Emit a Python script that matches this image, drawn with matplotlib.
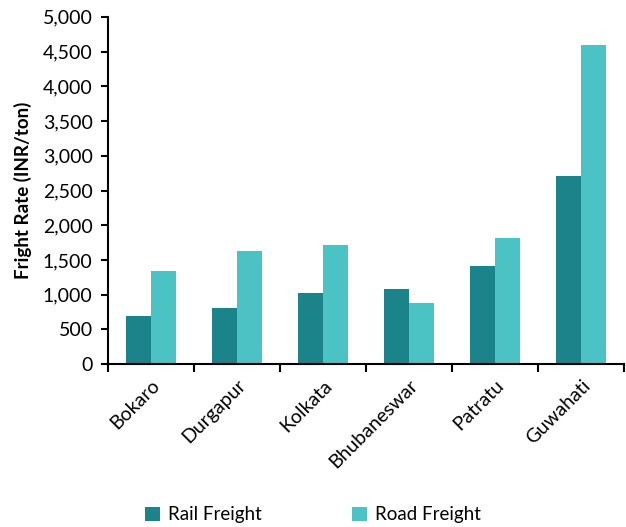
import numpy as np
import matplotlib.pyplot as plt
from matplotlib.ticker import FuncFormatter, FixedLocator

plt.rcParams['font.family'] = ['Lato', 'DejaVu Sans']

cities = ["Bokaro", "Durgapur", "Kolkata", "Bhubaneswar", "Patratu", "Guwahati"]
rail = [690, 805, 1020, 1075, 1410, 2705]
road = [1340, 1625, 1710, 880, 1815, 4590]

rail_col = "#1b848b"
road_col = "#4bc2c3"

fig = plt.figure(figsize=(6.26, 5.27), dpi=100)
ax = fig.add_axes([0.1725, 0.309, 0.825, 0.659])

x = np.arange(len(cities))
w = 0.29
ax.bar(x - w/2, rail, w, color=rail_col, label="Rail Freight")
ax.bar(x + w/2, road, w, color=road_col, label="Road Freight")

ax.set_xlim(-0.5, len(cities) - 0.5)
ax.set_ylim(0, 5000)
ax.set_yticks(np.arange(0, 5001, 500))
ax.yaxis.set_major_formatter(FuncFormatter(lambda v, p: f"{int(v):,}"))

ax.set_xticks(x)
ax.set_xticklabels(cities, rotation=45, ha="right", rotation_mode="anchor", fontsize=14)
ax.xaxis.set_minor_locator(FixedLocator(np.arange(-0.5, len(cities), 1)))
ax.tick_params(axis="x", which="major", length=0, pad=9)
ax.tick_params(axis="x", which="minor", length=6, width=1.5, direction="out")
ax.tick_params(axis="y", length=5, width=1.5, labelsize=14, pad=6)

for s in ["top", "right"]:
    ax.spines[s].set_visible(False)
ax.spines["left"].set_linewidth(1.5)
ax.spines["bottom"].set_linewidth(1.5)

ax.set_ylabel("Fright Rate (INR/ton)", fontsize=13.5, fontweight="bold", labelpad=8)

fig.legend(loc="lower center", bbox_to_anchor=(0.5, -0.025), ncol=2, frameon=False,
           fontsize=13.5, handlelength=0.8, handleheight=0.8, handletextpad=0.45,
           columnspacing=4.8)

fig.savefig("out.png", dpi=100)
